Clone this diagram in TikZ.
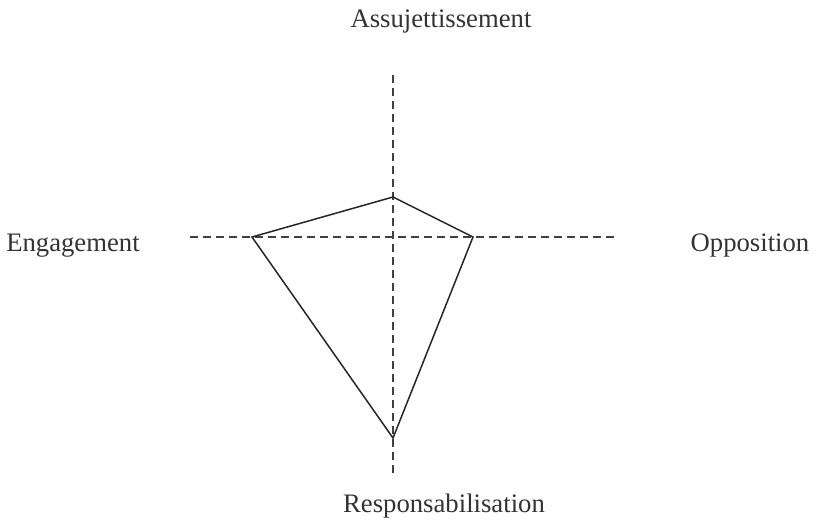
\documentclass[tikz,border=0pt]{standalone}
\usepackage{fontspec}
\setmainfont{Liberation Serif}
\begin{document}
\begin{tikzpicture}[x=1pt,y=-1pt,
  axis/.style={draw=black!75, line width=1.4pt, dash pattern=on 8pt off 5pt},
  poly/.style={draw=black!85, line width=1.5pt, line join=miter},
  lbl/.style={inner sep=0pt, anchor=base, font=\fontsize{26.7}{32}\selectfont, text=black!80}]
\useasboundingbox (0,0) rectangle (817,520);
\coordinate (vt) at (393,75);
\coordinate (vb) at (393,478);
\coordinate (hl) at (190,237);
\coordinate (hr) at (617,237);
\coordinate (pt) at (393,197);
\coordinate (pr) at (473,237);
\coordinate (pb) at (393,438);
\coordinate (pl) at (252,237);
\draw[axis] (vt) -- (vb);
\draw[axis] (hl) -- (hr);
\draw[poly] (pt) -- (pr) -- (pb) -- (pl) -- cycle;
\node[lbl] (a) at (441,27) {Assujettissement};
\node[lbl] (e) at (73,251) {Engagement};
\node[lbl] (o) at (750,251) {Opposition};
\node[lbl] (r) at (444,512) {Responsabilisation};
\end{tikzpicture}
\end{document}
